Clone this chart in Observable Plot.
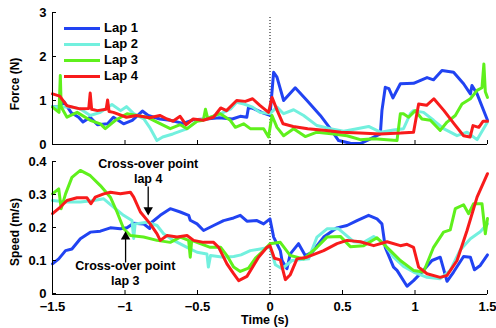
<!DOCTYPE html>
<html><head><meta charset="utf-8">
<script src="https://cdn.jsdelivr.net/npm/d3@7"></script>
<script src="https://cdn.jsdelivr.net/npm/@observablehq/plot@0.6"></script>
<style>
body{margin:0;background:#fff;}
#wrap{position:relative;width:496px;height:328px;font-family:"Liberation Sans",Arial,sans-serif;font-weight:bold;color:#000;overflow:hidden;}
.panel{position:absolute;left:0;}
#legend{position:absolute;left:64px;top:20px;font-size:13px;line-height:16px;}
#legend .row{display:flex;align-items:center;height:16px;}
#legend .sw{width:36px;height:3px;margin-right:4px;}
.lab{position:absolute;font-size:11px;white-space:nowrap;}
</style></head>
<body><div id="wrap"></div>
<script>
const laps = ["Lap 1","Lap 2","Lap 3","Lap 4"];
const colors = ["#2143f2","#72f0de","#5ff01c","#f81b1b"];
const xTicks = [-1.5,-1,-0.5,0,0.5,1,1.5];
const forceTicks = [0,1,2,3];
const speedTicks = [0,0.1,0.2,0.3,0.4];

// Force (N) vs time (s)
const forceLap1 = [[-1.5,0.86],[-1.46,0.85],[-1.42,0.97],[-1.37,0.72],[-1.32,0.62],[-1.29,0.51],[-1.24,0.62],[-1.19,0.45],[-1.12,0.47],[-1.08,0.62],[-1.01,0.47],[-0.95,0.55],[-0.88,0.76],[-0.84,0.66],[-0.76,0.58],[-0.69,0.55],[-0.6,0.48],[-0.53,0.56],[-0.44,0.58],[-0.35,0.61],[-0.26,0.58],[-0.205,0.64],[-0.16,0.62],[-0.148,0.85],[-0.11,0.81],[-0.05,0.72],[0.0,0.66],[0.025,1.64],[0.048,1.53],[0.094,1.0],[0.174,1.29],[0.255,1.0],[0.347,0.66],[0.416,0.36],[0.473,0.09],[0.554,0.03],[0.623,0.02],[0.692,0.13],[0.761,0.24],[0.772,0.77],[0.795,1.3],[0.82,1.27],[0.848,1.06],[0.899,1.38],[0.99,1.39],[1.083,1.52],[1.128,1.47],[1.186,1.68],[1.266,1.64],[1.335,1.38],[1.382,1.15],[1.393,1.34],[1.428,1.15],[1.5,0.55]];
const forceLap2 = [[-1.5,0.86],[-1.45,0.85],[-1.38,0.86],[-1.31,0.81],[-1.24,0.66],[-1.17,0.73],[-1.09,0.91],[-1.03,0.77],[-0.99,0.86],[-0.94,0.7],[-0.87,0.58],[-0.83,0.39],[-0.78,0.09],[-0.74,0.17],[-0.67,0.24],[-0.57,0.36],[-0.5,0.55],[-0.44,0.58],[-0.34,0.7],[-0.27,0.81],[-0.23,0.96],[-0.18,0.92],[-0.12,0.85],[-0.07,0.73],[0.0,0.7],[0.048,0.85],[0.094,0.7],[0.163,0.79],[0.232,0.66],[0.324,0.43],[0.416,0.36],[0.508,0.3],[0.6,0.36],[0.68,0.41],[0.761,0.28],[0.852,0.33],[0.921,0.36],[0.968,0.7],[0.99,0.77],[1.059,0.73],[1.128,0.55],[1.197,0.36],[1.29,0.2],[1.359,0.28],[1.428,0.11],[1.5,0.51]];
const forceLap3 = [[-1.5,0.85],[-1.455,0.73],[-1.446,1.57],[-1.44,0.85],[-1.4,0.62],[-1.33,0.73],[-1.24,0.55],[-1.17,0.47],[-1.136,0.36],[-1.066,0.55],[-0.986,0.7],[-0.917,0.66],[-0.848,0.62],[-0.779,0.51],[-0.688,0.36],[-0.619,0.45],[-0.572,0.36],[-0.503,0.53],[-0.46,0.55],[-0.445,0.8],[-0.43,0.6],[-0.343,0.7],[-0.274,0.55],[-0.239,0.39],[-0.182,0.47],[-0.136,0.36],[-0.044,0.36],[-0.01,0.17],[0.014,0.66],[0.048,0.39],[0.094,0.2],[0.163,0.36],[0.243,0.18],[0.324,0.28],[0.439,0.24],[0.531,0.2],[0.623,0.11],[0.715,0.13],[0.807,0.11],[0.876,0.09],[0.899,0.7],[0.92,0.7],[0.956,0.62],[1.002,0.77],[1.048,0.58],[1.106,0.55],[1.174,0.32],[1.221,0.51],[1.278,0.66],[1.324,0.92],[1.382,1.04],[1.428,1.23],[1.462,1.29],[1.475,1.83],[1.485,1.2],[1.5,1.07]];
const forceLap4 = [[-1.5,1.15],[-1.45,1.1],[-1.4,0.88],[-1.31,0.81],[-1.25,0.82],[-1.24,1.17],[-1.23,0.8],[-1.19,0.77],[-1.13,0.8],[-1.12,1.01],[-1.11,0.75],[-1.08,0.73],[-0.99,0.62],[-0.92,0.66],[-0.83,0.61],[-0.76,0.66],[-0.71,0.58],[-0.67,0.53],[-0.62,0.64],[-0.58,0.45],[-0.53,0.58],[-0.46,0.55],[-0.39,0.62],[-0.34,0.83],[-0.3,0.77],[-0.23,1.0],[-0.17,0.98],[-0.12,1.04],[-0.07,0.89],[-0.01,0.73],[0.014,1.07],[0.05,0.77],[0.09,0.47],[0.16,0.41],[0.26,0.36],[0.39,0.32],[0.49,0.28],[0.62,0.26],[0.76,0.24],[0.9,0.26],[0.99,0.28],[1.025,0.92],[1.08,0.89],[1.13,1.04],[1.2,0.77],[1.27,0.47],[1.335,0.2],[1.38,0.17],[1.4,0.43],[1.44,0.39],[1.47,0.53],[1.5,0.53]];

// Speed (m/s) vs time (s)
const speedLap1 = [[-1.5,0.093],[-1.457,0.108],[-1.41,0.133],[-1.366,0.138],[-1.308,0.169],[-1.239,0.189],[-1.17,0.192],[-1.101,0.202],[-1.032,0.199],[-0.986,0.202],[-0.94,0.216],[-0.872,0.214],[-0.83,0.2],[-0.815,0.219],[-0.757,0.24],[-0.688,0.26],[-0.619,0.25],[-0.561,0.24],[-0.55,0.225],[-0.503,0.214],[-0.458,0.194],[-0.389,0.209],[-0.32,0.224],[-0.251,0.232],[-0.205,0.24],[-0.159,0.222],[-0.09,0.224],[-0.044,0.214],[0.0,0.229],[0.025,0.174],[0.071,0.133],[0.083,0.103],[0.117,0.078],[0.14,0.123],[0.197,0.154],[0.243,0.118],[0.29,0.128],[0.37,0.174],[0.462,0.202],[0.531,0.209],[0.6,0.224],[0.68,0.24],[0.738,0.229],[0.772,0.214],[0.795,0.143],[0.852,0.083],[0.876,0.073],[0.945,0.025],[0.99,0.042],[1.048,0.068],[1.117,0.103],[1.174,0.113],[1.221,0.04],[1.266,0.068],[1.335,0.115],[1.382,0.113],[1.41,0.075],[1.45,0.088],[1.5,0.12]];
const speedLap2 = [[-1.5,0.285],[-1.4,0.28],[-1.308,0.28],[-1.216,0.285],[-1.147,0.29],[-1.079,0.265],[-1.01,0.24],[-0.952,0.224],[-0.94,0.17],[-0.93,0.214],[-0.848,0.219],[-0.779,0.209],[-0.734,0.184],[-0.665,0.164],[-0.572,0.143],[-0.503,0.128],[-0.435,0.123],[-0.425,0.083],[-0.41,0.118],[-0.32,0.113],[-0.25,0.115],[-0.2,0.12],[-0.136,0.133],[-0.067,0.138],[0.0,0.143],[0.037,0.09],[0.083,0.078],[0.152,0.103],[0.266,0.108],[0.324,0.174],[0.393,0.199],[0.473,0.199],[0.577,0.16],[0.646,0.158],[0.715,0.176],[0.784,0.156],[0.852,0.113],[0.921,0.085],[0.99,0.068],[1.083,0.052],[1.174,0.048],[1.243,0.073],[1.312,0.135],[1.382,0.169],[1.45,0.19],[1.5,0.214]];
const speedLap3 = [[-1.5,0.305],[-1.457,0.32],[-1.44,0.26],[-1.41,0.305],[-1.366,0.355],[-1.308,0.376],[-1.239,0.36],[-1.17,0.33],[-1.101,0.295],[-1.055,0.25],[-1.01,0.2],[-0.963,0.179],[-0.872,0.174],[-0.779,0.164],[-0.688,0.158],[-0.619,0.174],[-0.561,0.164],[-0.55,0.113],[-0.54,0.164],[-0.481,0.154],[-0.412,0.143],[-0.34,0.143],[-0.297,0.118],[-0.251,0.083],[-0.205,0.07],[-0.148,0.08],[-0.1,0.11],[-0.044,0.133],[0.0,0.154],[0.071,0.158],[0.14,0.118],[0.232,0.108],[0.324,0.143],[0.393,0.174],[0.485,0.176],[0.554,0.145],[0.646,0.148],[0.738,0.172],[0.83,0.133],[0.899,0.103],[0.99,0.073],[1.059,0.068],[1.128,0.143],[1.197,0.189],[1.243,0.196],[1.278,0.26],[1.335,0.272],[1.37,0.245],[1.404,0.275],[1.462,0.275],[1.485,0.184],[1.5,0.23]];
const speedLap4 = [[-1.5,0.245],[-1.446,0.265],[-1.4,0.285],[-1.331,0.293],[-1.262,0.293],[-1.235,0.275],[-1.205,0.295],[-1.147,0.305],[-1.101,0.31],[-1.032,0.305],[-0.963,0.31],[-0.94,0.295],[-0.894,0.25],[-0.826,0.214],[-0.779,0.184],[-0.757,0.164],[-0.71,0.179],[-0.641,0.174],[-0.572,0.179],[-0.527,0.164],[-0.458,0.158],[-0.389,0.158],[-0.354,0.143],[-0.297,0.093],[-0.251,0.063],[-0.216,0.042],[-0.159,0.055],[-0.079,0.113],[-0.021,0.143],[0.0,0.148],[0.03,0.11],[0.071,0.105],[0.106,0.045],[0.14,0.06],[0.186,0.108],[0.255,0.113],[0.37,0.133],[0.462,0.154],[0.531,0.164],[0.623,0.16],[0.715,0.148],[0.807,0.16],[0.899,0.148],[0.945,0.152],[0.99,0.143],[1.025,0.083],[1.083,0.063],[1.174,0.052],[1.221,0.058],[1.29,0.103],[1.359,0.194],[1.428,0.295],[1.5,0.366]];

// Annotations (data coordinates)
const annLabels = [{x:-0.84, y:0.374, text:"Cross-over point\nlap 4"},{x:-0.998, y:0.066, text:"Cross-over point\nlap 3"}];
const annShafts = [{x:-0.84, y1:0.327, y2:0.258},{x:-0.996, y1:0.097, y2:0.173}];
const annHeads = [{x:-0.84, y:0.256, rot:180},{x:-0.996, y:0.175, rot:0}];

const forceSeries = [forceLap1, forceLap2, forceLap3, forceLap4];
const speedSeries = [speedLap1, speedLap2, speedLap3, speedLap4];

const fmt = d => d === 0 ? "0" : (d < 0 ? "\u2212" : "") + Math.abs(d);
const plotStyle = {fontFamily:'"Liberation Sans",Arial,sans-serif', fontSize:"13px", fontWeight:"bold", color:"#000", background:"transparent", overflow:"visible"};
const lines = series => series.map((s,i) => Plot.line(s, {x: d=>d[0], y: d=>d[1], stroke: colors[i], strokeWidth: 3, strokeLinejoin:"round"}));

const topPlot = Plot.plot({
  width:496, height:150, marginLeft:52, marginRight:9, marginTop:12, marginBottom:6,
  style: plotStyle,
  x:{domain:[-1.5,1.5]}, y:{domain:[0,3]},
  marks:[
    Plot.ruleX([0], {y1:0, y2:2.93, stroke:"#000", strokeDasharray:"1,2", strokeWidth:1}),
    ...lines(forceSeries),
    Plot.ruleY([0], {stroke:"#000"}),
    Plot.ruleX([-1.5], {stroke:"#000"}),
    Plot.axisX(xTicks, {tickSize:-4, tickFormat:()=>"", label:null}),
    Plot.axisY(forceTicks, {tickSize:-4, tickPadding:10, tickFormat:fmt, label:null, fontSize:13})
  ]
});
const botPlot = Plot.plot({
  width:496, height:178, marginLeft:52, marginRight:9, marginTop:12, marginBottom:34,
  style: plotStyle,
  x:{domain:[-1.5,1.5]}, y:{domain:[0,0.4]},
  marks:[
    Plot.ruleX([0], {y1:0, y2:0.39, stroke:"#000", strokeDasharray:"1,2", strokeWidth:1}),
    ...lines(speedSeries),
    Plot.ruleY([0], {stroke:"#000"}),
    Plot.ruleX([-1.5], {stroke:"#000"}),
    Plot.axisX(xTicks, {tickSize:-4, tickPadding:11, tickFormat:fmt, label:null, fontSize:13}),
    Plot.axisY(speedTicks, {tickSize:-4, tickPadding:10, tickFormat:fmt, label:null, fontSize:13, dy:-1}),
    Plot.text(annLabels, {x:"x", y:"y", text:"text", lineHeight:1.2, fontSize:12.5, fontWeight:"bold", fill:"#000"}),
    Plot.link(annShafts, {x1:"x", x2:"x", y1:"y1", y2:"y2", stroke:"#000", strokeWidth:1.3}),
    Plot.dot(annHeads, {x:"x", y:"y", symbol:"triangle", r:3.5, fill:"#000", stroke:"none", rotate:"rot"})
  ]
});

const wrap = document.getElementById("wrap");
topPlot.classList.add("panel"); topPlot.style.top = "0px";
botPlot.classList.add("panel"); botPlot.style.top = "150px";
wrap.appendChild(topPlot); wrap.appendChild(botPlot);

const leg = document.createElement("div"); leg.id = "legend";
laps.forEach((l,i) => {
  const r = document.createElement("div"); r.className = "row";
  const sw = document.createElement("div"); sw.className = "sw"; sw.style.background = colors[i];
  const t = document.createElement("span"); t.textContent = l;
  r.appendChild(sw); r.appendChild(t); leg.appendChild(r);
});
wrap.appendChild(leg);

function addLabel(text, cx, cy, rot, size) {
  const d = document.createElement("div"); d.className = "lab"; d.textContent = text;
  d.style.fontSize = size + "px";
  wrap.appendChild(d);
  const w = d.offsetWidth, h = d.offsetHeight;
  d.style.left = (cx - w/2) + "px"; d.style.top = (cy - h/2) + "px";
  if (rot) d.style.transform = "rotate(-90deg)";
}
addLabel("Force (N)", 15, 84, true, 12);
addLabel("Speed (m/s)", 15, 232, true, 12);
addLabel("Time (s)", 265, 320, false, 12.5);
</script></body></html>
